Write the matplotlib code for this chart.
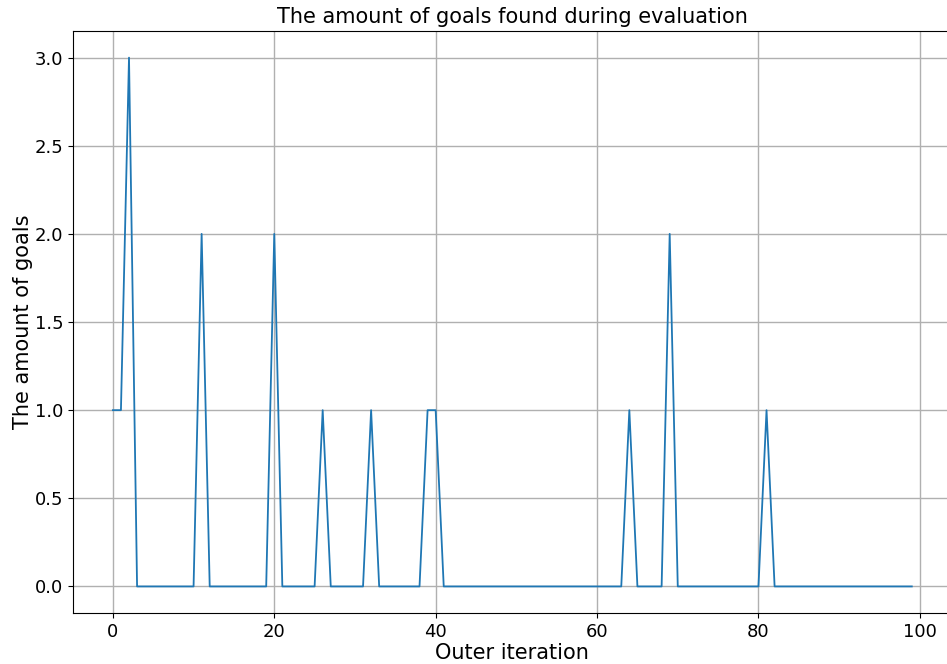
import numpy as np
import matplotlib
matplotlib.use("Agg")
import matplotlib.pyplot as plt

# goals found per outer iteration (0..99)
goals = [1, 1, 3, 0, 0, 0, 0, 0, 0, 0, 0, 2, 0, 0, 0, 0, 0, 0, 0, 0,
         2, 0, 0, 0, 0, 0, 1, 0, 0, 0, 0, 0, 1, 0, 0, 0, 0, 0, 0, 1,
         1, 0, 0, 0, 0, 0, 0, 0, 0, 0, 0, 0, 0, 0, 0, 0, 0, 0, 0, 0,
         0, 0, 0, 0, 1, 0, 0, 0, 0, 2, 0, 0, 0, 0, 0, 0, 0, 0, 0, 0,
         0, 1, 0, 0, 0, 0, 0, 0, 0, 0, 0, 0, 0, 0, 0, 0, 0, 0, 0, 0]
iters = np.arange(len(goals))

fig, ax = plt.subplots(figsize=(9.47, 6.64), dpi=100)
# axes runs slightly past the right edge of the picture, as in the original
fig.subplots_adjust(left=0.077, right=1.005, top=0.953, bottom=0.077)

ax.plot(iters, goals, color="#1f77b4", linewidth=1.3)
ax.grid(True, color="#b0b0b0", linewidth=1)
ax.set_axisbelow(True)

ax.set_title("The amount of goals found during evaluation", fontsize=15)
ax.set_xlabel("Outer iteration", fontsize=15, labelpad=2)
ax.set_ylabel("The amount of goals", fontsize=15, labelpad=1)
ax.tick_params(labelsize=13)
ax.set_yticks([0.0, 0.5, 1.0, 1.5, 2.0, 2.5, 3.0])
ax.set_yticklabels(["0.0", "0.5", "1.0", "1.5", "2.0", "2.5", "3.0"])

fig.savefig("out.png", dpi=100)
